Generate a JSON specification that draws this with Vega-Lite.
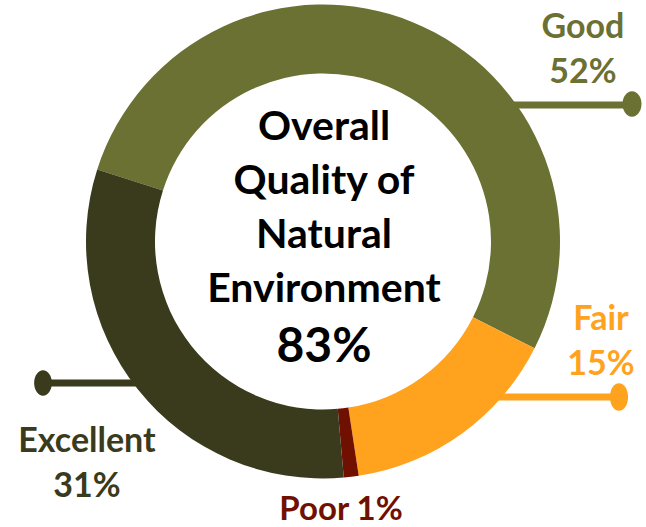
{
  "$schema": "https://vega.github.io/schema/vega-lite/v6.json",
  "width": 646,
  "height": 527,
  "padding": 0,
  "autosize": {"type": "none"},
  "background": "white",
  "config": {"view": {"stroke": null}, "text": {"font": "Lato", "fontWeight": "bold"}},
  "data": {
    "values": [
      {"category": "Good", "percent": 52, "order": 1, "label": "Good\n52%"},
      {"category": "Fair", "percent": 15, "order": 2, "label": "Fair\n15%"},
      {"category": "Poor", "percent": 1, "order": 3, "label": "Poor 1%"},
      {"category": "Excellent", "percent": 31, "order": 4, "label": "Excellent\n31%"}
    ]
  },
  "encoding": {
    "color": {
      "field": "category", "type": "nominal",
      "scale": {"domain": ["Good", "Fair", "Poor", "Excellent"], "range": ["#6B7033", "#FFA31F", "#701000", "#3A3A1C"]},
      "legend": null
    }
  },
  "layer": [
    {
      "mark": {"type": "arc", "outerRadius": 237, "innerRadius": 168},
      "encoding": {
        "theta": {"field": "percent", "type": "quantitative", "stack": true, "scale": {"range": [-1.262, 5.0212]}},
        "order": {"field": "order", "type": "quantitative"},
        "x": {"datum": 323, "type": "quantitative", "scale": {"domain": [0, 646], "range": [0, 646], "zero": false, "nice": false}, "axis": null},
        "y": {"datum": 241.5, "type": "quantitative", "scale": {"domain": [0, 527], "range": [0, 527], "zero": false, "nice": false}, "axis": null}
      }
    },
    {
      "transform": [{"filter": "datum.category === 'Good'"}],
      "mark": {"type": "rule", "strokeWidth": 7},
      "encoding": {"x": {"datum": 480}, "x2": {"datum": 632}, "y": {"datum": 105}}
    },
    {
      "transform": [{"filter": "datum.category === 'Fair'"}],
      "mark": {"type": "rule", "strokeWidth": 7},
      "encoding": {"x": {"datum": 480}, "x2": {"datum": 619}, "y": {"datum": 397}}
    },
    {
      "transform": [{"filter": "datum.category === 'Excellent'"}],
      "mark": {"type": "rule", "strokeWidth": 7},
      "encoding": {"x": {"datum": 43}, "x2": {"datum": 165}, "y": {"datum": 383}}
    },
    {
      "transform": [{"filter": "datum.category === 'Good'"}],
      "mark": {"type": "point", "filled": true, "opacity": 1, "shape": "M0,-1A0.75,1 0 1,1 0,1A0.75,1 0 1,1 0,-1Z", "size": 640},
      "encoding": {"x": {"datum": 632}, "y": {"datum": 104}}
    },
    {
      "transform": [{"filter": "datum.category === 'Fair'"}],
      "mark": {"type": "point", "filled": true, "opacity": 1, "shape": "M0,-1A0.66,1 0 1,1 0,1A0.66,1 0 1,1 0,-1Z", "size": 760},
      "encoding": {"x": {"datum": 619}, "y": {"datum": 397}}
    },
    {
      "transform": [{"filter": "datum.category === 'Excellent'"}],
      "mark": {"type": "point", "filled": true, "opacity": 1, "shape": "M0,-1A0.7,1 0 1,1 0,1A0.7,1 0 1,1 0,-1Z", "size": 640},
      "encoding": {"x": {"datum": 43}, "y": {"datum": 383}}
    },
    {
      "transform": [{"filter": "datum.category === 'Good'"}],
      "mark": {"type": "text", "fontSize": 34, "lineBreak": "\n", "lineHeight": 45, "align": "center", "baseline": "alphabetic"},
      "encoding": {"text": {"field": "label"}, "x": {"datum": 583}, "y": {"datum": 38}}
    },
    {
      "transform": [{"filter": "datum.category === 'Fair'"}],
      "mark": {"type": "text", "fontSize": 34, "lineBreak": "\n", "lineHeight": 45, "align": "center", "baseline": "alphabetic"},
      "encoding": {"text": {"field": "label"}, "x": {"datum": 601}, "y": {"datum": 330}}
    },
    {
      "transform": [{"filter": "datum.category === 'Poor'"}],
      "mark": {"type": "text", "fontSize": 33, "lineBreak": "\n", "align": "center", "baseline": "alphabetic"},
      "encoding": {"text": {"field": "label"}, "x": {"datum": 341}, "y": {"datum": 520}}
    },
    {
      "transform": [{"filter": "datum.category === 'Excellent'"}],
      "mark": {"type": "text", "fontSize": 34, "lineBreak": "\n", "lineHeight": 45, "align": "center", "baseline": "alphabetic"},
      "encoding": {"text": {"field": "label"}, "x": {"datum": 87}, "y": {"datum": 452}}
    },
    {
      "data": {"values": [{"title": "Overall\nQuality of\nNatural\nEnvironment", "total": "83%"}]},
      "mark": {"type": "text", "fontSize": 41, "lineBreak": "\n", "lineHeight": 54, "align": "center", "baseline": "alphabetic"},
      "encoding": {"color": {"value": "#000000"}, "text": {"field": "title"}, "x": {"datum": 324}, "y": {"datum": 140}}
    },
    {
      "data": {"values": [{"title": "Overall\nQuality of\nNatural\nEnvironment", "total": "83%"}]},
      "mark": {"type": "text", "fontSize": 48, "align": "center", "baseline": "alphabetic"},
      "encoding": {"color": {"value": "#000000"}, "text": {"field": "total"}, "x": {"datum": 324}, "y": {"datum": 362}}
    }
  ]
}
